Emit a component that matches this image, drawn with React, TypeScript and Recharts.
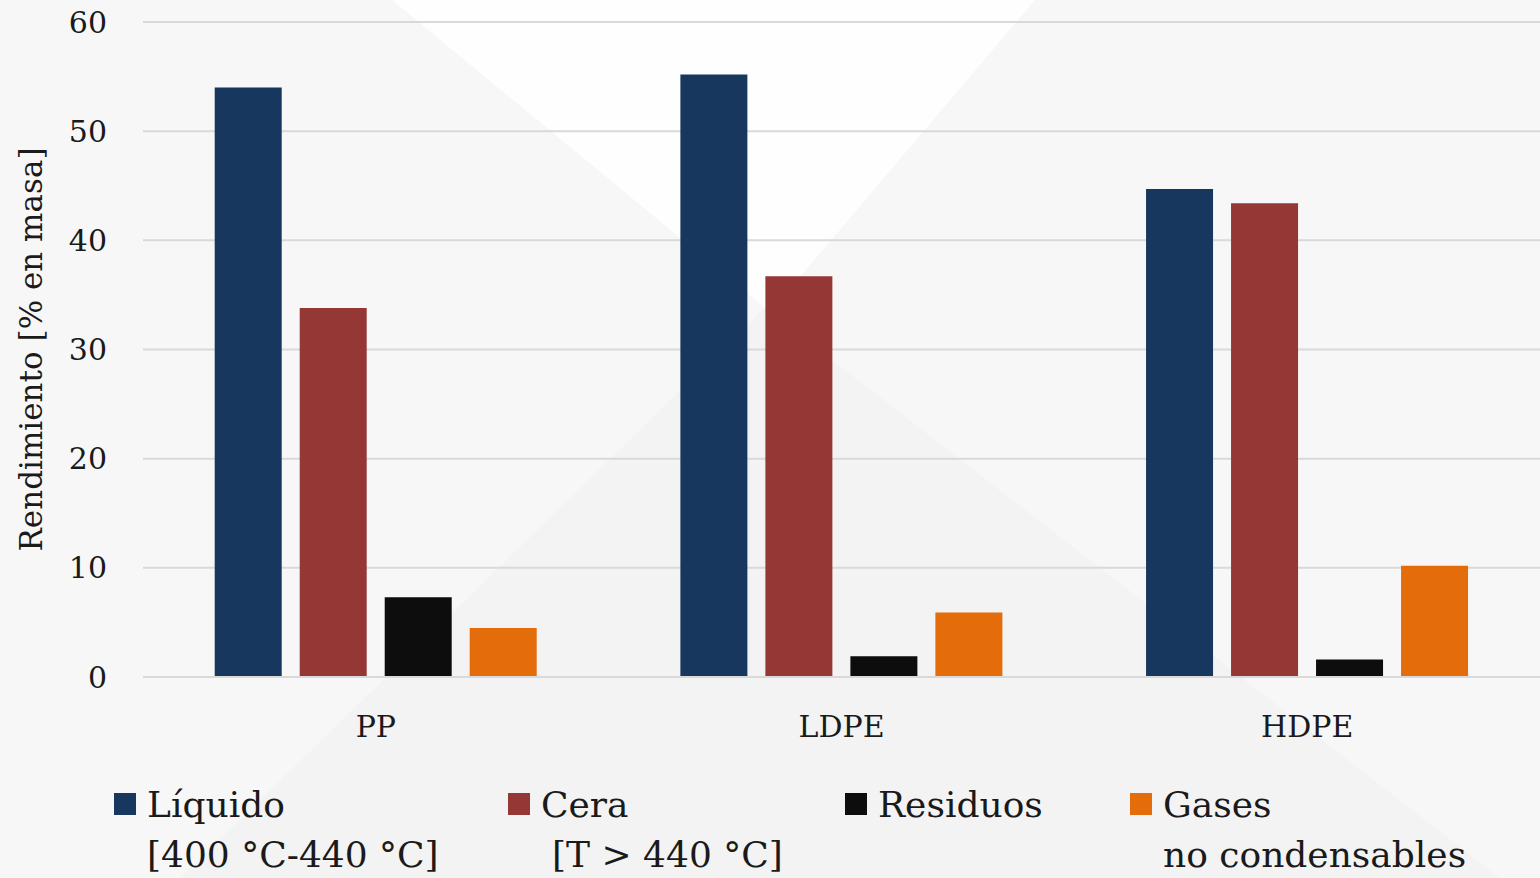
import React from "react";
import { BarChart, Bar, XAxis, YAxis, CartesianGrid, Legend } from "recharts";

const categories = ["PP", "LDPE", "HDPE"];
const liquido = [54.0, 55.2, 44.7];
const cera = [33.8, 36.7, 43.4];
const residuos = [7.3, 1.9, 1.6];
const gases = [4.5, 5.9, 10.2];
const yTicks = [0, 10, 20, 30, 40, 50, 60];

const seriesNames = ["Líquido", "Cera", "Residuos", "Gases"];
const seriesSubtitles = ["[400 °C-440 °C]", "[T > 440 °C]", "", "no condensables"];

const data = categories.map((name, i) => ({
  name,
  liquido: liquido[i],
  cera: cera[i],
  residuos: residuos[i],
  gases: gases[i],
}));

const FONT = "'DejaVu Serif', serif";
const TEXT = "#1a1a1a";
const GRID = "#d9d9d9";

// legend item left edges / sub-line indents (layout only)
const legendLeft = [114, 508, 845, 1130];
const subIndent = [33, 44, 33, 33];

function renderLegend(props: any) {
  const payload = [...(props.payload || [])].sort(
    (a: any, b: any) => seriesNames.indexOf(a.value) - seriesNames.indexOf(b.value)
  );
  return (
    <div style={{ position: "relative", width: 1540, height: 98, fontFamily: FONT, fontSize: 36, color: TEXT }}>
      {payload.map((entry: any) => {
        const i = seriesNames.indexOf(entry.value);
        return (
          <div key={entry.value} style={{ position: "absolute", left: legendLeft[i], top: 0, lineHeight: "50px" }}>
            <span
              style={{
                position: "absolute",
                left: 0,
                top: 13,
                width: 22,
                height: 22,
                background: entry.color,
              }}
            />
            <div style={{ marginLeft: 33, whiteSpace: "nowrap" }}>{entry.value}</div>
            {seriesSubtitles[i] ? (
              <div style={{ marginLeft: subIndent[i], whiteSpace: "nowrap" }}>{seriesSubtitles[i]}</div>
            ) : null}
          </div>
        );
      })}
    </div>
  );
}

export default function App() {
  return (
    <div
      style={{
        position: "absolute",
        left: 0,
        top: 0,
        width: 1540,
        height: 878,
        background: "#f7f7f7",
        overflow: "hidden",
      }}
    >
      {/* decorative background shapes */}
      <svg width={1540} height={878} style={{ position: "absolute", left: 0, top: 0 }}>
        <polygon points="392,0 1035,0 770,312" fill="#fefefe" />
        <polygon points="765,308 180,878 1500,878" fill="#f3f3f3" />
      </svg>
      <div style={{ position: "absolute", left: 0, top: 0 }}>
        <BarChart
          width={1540}
          height={878}
          data={data}
          margin={{ top: 22, right: 0, left: 0, bottom: 0 }}
          barCategoryGap="15.4%"
          barGap={18}
        >
          <CartesianGrid horizontal vertical={false} stroke={GRID} strokeWidth={2} />
          <XAxis
            dataKey="name"
            height={103}
            axisLine={{ stroke: GRID, strokeWidth: 2 }}
            tickLine={false}
            tickMargin={33}
            tick={{ fill: TEXT, fontSize: 30, fontFamily: FONT }}
          />
          <YAxis
            width={143}
            domain={[0, 60]}
            ticks={yTicks}
            axisLine={false}
            tickLine={false}
            tickMargin={30}
            tick={{ fill: TEXT, fontSize: 30, fontFamily: FONT }}
            label={{
              value: "Rendimiento [% en masa]",
              angle: -90,
              position: "center",
              dx: -41,
              style: { fill: TEXT, fontSize: 31, fontFamily: FONT },
            }}
          />
          <Legend verticalAlign="bottom" content={renderLegend} wrapperStyle={{ left: 0, width: 1540 }} />
          <Bar dataKey="liquido" name={seriesNames[0]} fill="#17375e" isAnimationActive={false} />
          <Bar dataKey="cera" name={seriesNames[1]} fill="#953735" isAnimationActive={false} />
          <Bar dataKey="residuos" name={seriesNames[2]} fill="#0d0d0d" isAnimationActive={false} />
          <Bar dataKey="gases" name={seriesNames[3]} fill="#e46c0a" isAnimationActive={false} />
        </BarChart>
      </div>
    </div>
  );
}
